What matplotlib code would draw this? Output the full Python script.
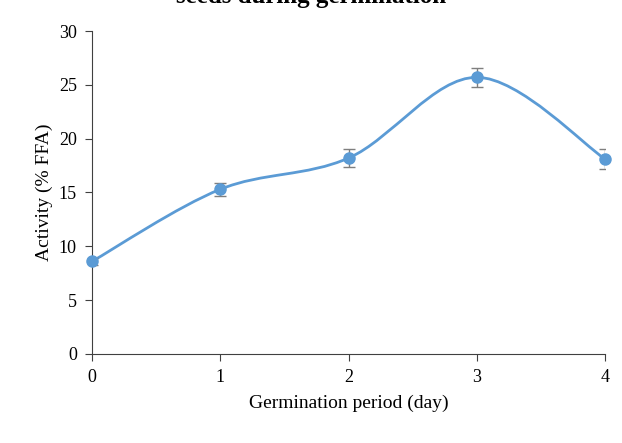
import numpy as np
import matplotlib.pyplot as plt
from matplotlib.path import Path
from matplotlib.patches import PathPatch

plt.rcParams.update({
    "font.family": "Liberation Serif",
    "font.size": 12,
})

# data
days = [0, 1, 2, 3, 4]
activity = [8.6, 15.3, 18.2, 25.7, 18.1]
errors = [0.3, 0.6, 0.8, 0.9, 0.9]

BLUE = "#5B9BD5"


def smooth_path(xs, ys):
    """Excel-style smoothed line as cubic bezier segments."""
    pts = np.column_stack([xs, ys]).astype(float)
    n = len(pts)
    verts = [pts[0]]
    codes = [Path.MOVETO]
    for i in range(n - 1):
        p0 = pts[i - 1] if i > 0 else pts[i]
        p1 = pts[i]
        p2 = pts[i + 1]
        p3 = pts[i + 2] if i + 2 < n else pts[i + 1]
        c1 = p1 + (p2 - p0) / 6.0
        c2 = p2 - (p3 - p1) / 6.0
        verts += [c1, c2, p2]
        codes += [Path.CURVE4] * 3
    return Path(verts, codes)


fig = plt.figure(figsize=(6.22, 4.43), dpi=100)
ax = fig.add_axes([0.148, 0.201, 0.825, 0.729])

patch = PathPatch(smooth_path(days, activity), facecolor="none",
                  edgecolor=BLUE, linewidth=2, zorder=2)
ax.add_patch(patch)
ax.errorbar(days, activity, yerr=errors, fmt="none", ecolor="#7f7f7f",
            elinewidth=1, capsize=4, capthick=1, zorder=3)
ax.plot(days, activity, "o", color=BLUE, markersize=8, zorder=4, clip_on=False)

ax.set_xlim(0, 4)
ax.set_ylim(0, 30)
ax.set_xticks(days)
ax.set_yticks(range(0, 31, 5))
ax.spines["top"].set_visible(False)
ax.spines["right"].set_visible(False)
for s in ("left", "bottom"):
    ax.spines[s].set_color("#404040")
ax.tick_params(direction="out", length=5, color="#404040", labelsize=13, pad=6)

ax.set_xlabel("Germination period (day)", fontsize=14, labelpad=6)
ax.set_ylabel("Activity (% FFA)", fontsize=14, labelpad=4)

# title is partly outside the figure, as in the source image
fig.text(0.5, 0.993, "seeds during germination", ha="center", va="baseline",
         fontsize=18, fontweight="bold")

fig.savefig("out.png", dpi=100)
